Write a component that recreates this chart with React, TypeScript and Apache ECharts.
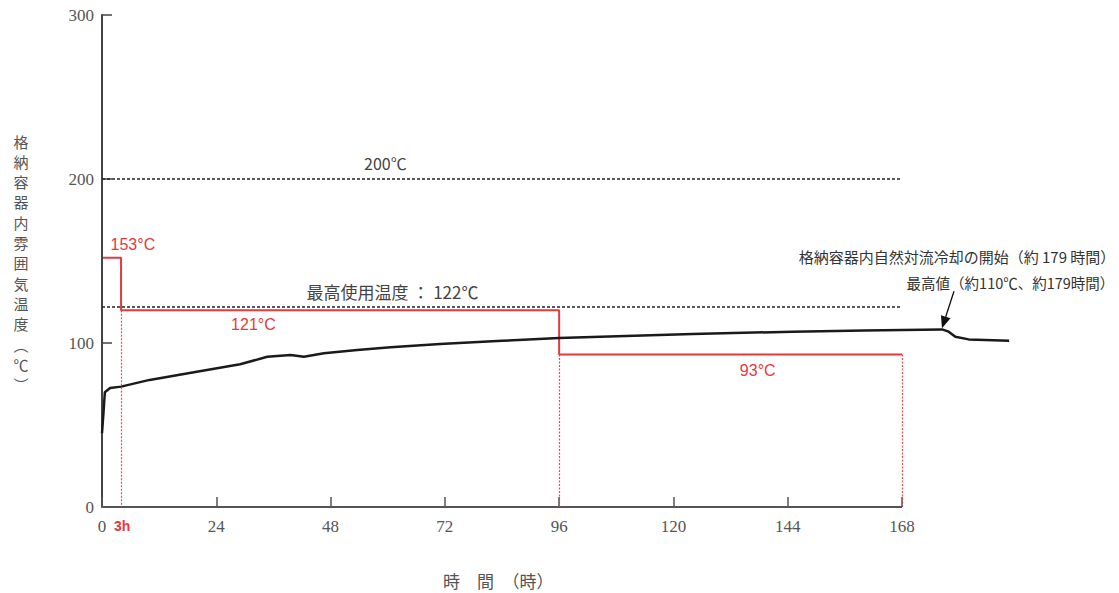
import React, { useEffect, useRef } from "react";
import * as echarts from "echarts";

// Black curve: containment atmosphere temperature (hours, °C)
const hours = [0, 0.3, 0.6, 1.7, 4, 10, 19, 29, 34.7, 39.6, 42.4, 46.6, 53.6, 60.6, 71, 84, 96, 110, 124, 145, 160, 176.4, 177.8, 179.2, 182, 190.5];
const temps = [45, 57, 70, 72.5, 73.4, 77.5, 82, 87, 91.6, 92.7, 91.6, 93.7, 95.7, 97.4, 99.4, 101.3, 103, 104.3, 105.5, 106.9, 107.6, 108.3, 106.9, 103.8, 102.2, 101.4];

// Red step: supply condition
const stepHours = [0.2, 4, 4, 96, 96, 168];
const stepTemps = [152, 152, 120, 120, 93, 93];
const stepDrops = [4, 96, 168];

// Horizontal reference levels
const refLevels = [200, 122];

// Axis ticks
const xTickValues = [0, 24, 48, 72, 96, 120, 144, 168];
const xAxisEnd = 168;
const xExtent = 192;
const yMax = 300;
const yInterval = 100;

const SERIF = "'Liberation Serif', 'DejaVu Serif', serif";
const CJK = "'Noto Sans CJK JP', 'Noto Sans', sans-serif";
const SANS = "'Liberation Sans', Arial, sans-serif";
const RED = "#e5393c";

export default function App() {
  const ref = useRef<HTMLDivElement>(null);
  useEffect(() => {
    document.body.style.margin = "0";
    const chart = echarts.init(ref.current!, null, { renderer: "svg" });
    const gridLeft = 102;
    const axisPx = 800;
    const gridRight = 1119 - gridLeft - (axisPx * xExtent) / xAxisEnd;
    const option: any = {
      animation: false,
      backgroundColor: "#ffffff",
      grid: { left: gridLeft, right: gridRight, top: 15, bottom: 86 },
      xAxis: {
        type: "value",
        min: 0,
        max: xExtent,
        interval: 24,
        axisLine: { show: false },
        axisTick: { show: true, inside: true, length: 10, customValues: xTickValues, lineStyle: { color: "#555", width: 1.5 } },
        axisLabel: {
          color: "#555",
          fontFamily: SERIF,
          fontSize: 17,
          margin: 11,
          customValues: xTickValues,
          formatter: (v: number) => (v > xAxisEnd ? "" : String(v)),
        },
        splitLine: { show: false },
      },
      yAxis: {
        type: "value",
        min: 0,
        max: yMax,
        interval: yInterval,
        axisLine: { show: true, lineStyle: { color: "#444", width: 2 } },
        axisTick: { show: true, inside: true, length: 10, lineStyle: { color: "#444", width: 1.5 } },
        axisLabel: { color: "#555", fontFamily: SERIF, fontSize: 17, margin: 8 },
        splitLine: { show: false },
      },
      series: [
        {
          type: "line",
          data: [[0, 0]],
          symbol: "none",
          lineStyle: { width: 0, opacity: 0 },
          markLine: {
            silent: true,
            symbol: "none",
            label: { show: false },
            lineStyle: { color: "#555", width: 2, type: "solid" },
            data: [[{ coord: [0, 0] }, { coord: [xAxisEnd, 0] }]],
          },
        },
        {
          type: "line",
          data: refLevels.map((v) => [0, v]),
          symbol: "none",
          lineStyle: { width: 0, opacity: 0 },
          markLine: {
            silent: true,
            symbol: "none",
            label: { show: false },
            lineStyle: { color: "#222", width: 1.5, type: [3, 2] },
            data: refLevels.map((v) => [{ coord: [0, v] }, { coord: [xAxisEnd, v] }]),
          },
        },
        {
          type: "line",
          data: stepHours.map((h, i) => [h, stepTemps[i]]),
          symbol: "none",
          lineStyle: { color: RED, width: 2 },
          markLine: {
            silent: true,
            symbol: "none",
            label: { show: false },
            lineStyle: { color: RED, width: 1.2, type: [2, 1.5], opacity: 0.9 },
            data: stepDrops.map((h) => {
              const idx = stepHours.lastIndexOf(h);
              return [{ coord: [h, stepTemps[idx]] }, { coord: [h, 0] }];
            }),
          },
        },
        {
          type: "line",
          data: hours.map((h, i) => [h, temps[i]]),
          symbol: "none",
          lineStyle: { color: "#1a1a1a", width: 2.5 },
        },
      ],
    };
    chart.setOption(option);

    const p = (x: number, y: number) => chart.convertToPixel({ gridIndex: 0 }, [x, y]) as number[];
    const yName = ["格", "納", "容", "器", "内", "雰", "囲", "気", "温", "度", "︵", "℃", "︶"];
    const tip = p(176.4, 109);
    const tail = [tip[0] + 12, tip[1] - 37];
    const ang = Math.atan2(tip[1] - tail[1], tip[0] - tail[0]);
    const ah = 12, aw = 5;
    const base = [tip[0] - ah * Math.cos(ang), tip[1] - ah * Math.sin(ang)];
    const nx = -Math.sin(ang), ny = Math.cos(ang);

    const t200 = p(59.5, 209.7);
    const t122 = p(61, 131.7);
    const t121 = p(31.8, 111);
    const t93 = p(137.7, 83.5);
    const t153 = p(1.8, 159.8);
    const t3h = p(4, 0);
    const ann1 = p(212.8, 153);
    const ann2 = p(212.6, 136.6);

    chart.setOption({
      graphic: [
        ...yName.map((c, i) => ({
          type: "text",
          x: 21,
          y: 141 + i * 20.3,
          style: { text: c, font: `15px ${CJK}`, fill: "#555", align: "center", verticalAlign: "middle" },
        })),
        {
          type: "text",
          x: 443,
          y: 580,
          style: { text: "時　間　（時）", font: `17px ${CJK}`, lineHeight: 20, fill: "#555", align: "left", verticalAlign: "middle" },
        },
        { type: "text", x: t200[0], y: t200[1], style: { text: "200℃", font: `16px ${CJK}`, fill: "#444", align: "center", verticalAlign: "middle" } },
        { type: "text", x: t122[0], y: t122[1], style: { text: "最高使用温度 ： 122℃", font: `17px ${CJK}`, fill: "#444", align: "center", verticalAlign: "middle" } },
        { type: "text", x: t121[0], y: t121[1], style: { text: "121°C", font: `16px ${SANS}`, fill: RED, align: "center", verticalAlign: "middle" } },
        { type: "text", x: t93[0], y: t93[1], style: { text: "93°C", font: `16px ${SANS}`, fill: RED, align: "center", verticalAlign: "middle" } },
        { type: "text", x: t153[0], y: t153[1], style: { text: "153°C", font: `16px ${SANS}`, fill: RED, align: "left", verticalAlign: "middle" } },
        { type: "text", x: t3h[0] - 7, y: t3h[1] + 19, style: { text: "3h", font: `bold 14px ${SANS}`, fill: RED, align: "left", verticalAlign: "middle" } },
        { type: "text", x: ann1[0], y: ann1[1], style: { text: "格納容器内自然対流冷却の開始（約 179 時間）", font: `15px ${CJK}`, fill: "#333", align: "right", verticalAlign: "middle" } },
        { type: "text", x: ann2[0], y: ann2[1], style: { text: "最高値（約110℃、約179時間）", font: `14.5px ${CJK}`, fill: "#333", align: "right", verticalAlign: "middle" } },
        { type: "line", shape: { x1: tail[0], y1: tail[1], x2: base[0], y2: base[1] }, style: { stroke: "#111", lineWidth: 1.3 } },
        {
          type: "polygon",
          shape: {
            points: [
              [tip[0], tip[1]],
              [base[0] + nx * aw, base[1] + ny * aw],
              [base[0] - nx * aw, base[1] - ny * aw],
            ],
          },
          style: { fill: "#111" },
        },
      ],
    });
    return () => chart.dispose();
  }, []);
  return <div ref={ref} style={{ width: 1119, height: 593 }} />;
}
